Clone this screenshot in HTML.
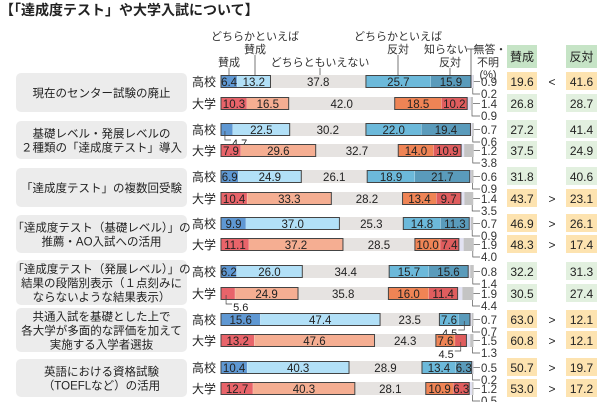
<!DOCTYPE html>
<html><head><meta charset="utf-8">
<style>
html,body{margin:0;padding:0;background:#fff;}
svg{display:block;font-family:"Liberation Sans","Noto Sans CJK JP",sans-serif;}
</style></head>
<body>
<svg id="c" width="600" height="402" viewBox="0 0 600 402" xmlns="http://www.w3.org/2000/svg">
<text x="0" y="15" font-size="14" font-weight="bold" fill="#222">【「達成度テスト」や大学入試について】</text>
<g font-size="11" fill="#333" text-anchor="middle">
<text x="255" y="40">どちらかといえば</text>
<text x="255" y="53">賛成</text>
<text x="229" y="66">賛成</text>
<text x="320" y="66">どちらともいえない</text>
<text x="398" y="40">どちらかといえば</text>
<text x="398" y="53">反対</text>
<text x="446" y="53">知らない</text>
<text x="450" y="66">反対</text>
<text x="490" y="53">無答・</text>
<text x="488" y="66">不明</text>
<text x="488" y="78">(%)</text>
</g>
<g stroke="#555" stroke-width="0.8">
<line x1="229" y1="68" x2="229" y2="76"/>
<line x1="255" y1="55" x2="255" y2="76"/>
<line x1="320" y1="68" x2="320" y2="76"/>
<line x1="398" y1="55" x2="398" y2="76"/>
<line x1="450" y1="68" x2="450" y2="76"/>
<line x1="471" y1="49" x2="471" y2="76"/>
<line x1="467" y1="49" x2="477" y2="49"/>
</g>
<rect x="507" y="45" width="30" height="23" fill="#c6e4c6"/>
<rect x="566" y="45" width="31" height="23" fill="#c6e4c6"/>
<text x="522" y="61" font-size="12" text-anchor="middle" fill="#222">賛成</text>
<text x="581.5" y="61" font-size="12" text-anchor="middle" fill="#222">反対</text>
<g id="g"></g>
</svg>
<script>
var groups=[
{l:["現在のセンター試験の廃止"],r:[
 [6.4,13.2,37.8,25.7,15.9,0.9,0.2,"19.6","<","41.6",1],
 [10.3,16.5,42.0,18.5,10.2,1.4,0.9,"26.8","","28.7",0]]},
{l:["基礎レベル・発展レベルの","２種類の「達成度テスト」導入"],r:[
 [4.7,22.5,30.2,22.0,19.4,0.7,0.6,"27.2","","41.4",0,"a"],
 [7.9,29.6,32.7,14.0,10.9,1.2,3.8,"37.5","","24.9",0]]},
{l:["「達成度テスト」の複数回受験"],r:[
 [6.9,24.9,26.1,18.9,21.7,0.6,0.9,"31.8","","40.6",0],
 [10.4,33.3,28.2,13.4,9.7,1.4,3.5,"43.7",">","23.1",1]]},
{l:["「達成度テスト（基礎レベル）」の","推薦・AO入試への活用"],r:[
 [9.9,37.0,25.3,14.8,11.3,0.7,0.9,"46.9",">","26.1",1],
 [11.1,37.2,28.5,10.0,7.4,1.9,4.0,"48.3",">","17.4",1]]},
{l:["「達成度テスト（発展レベル）」の","結果の段階別表示（１点刻みに","ならないような結果表示）"],r:[
 [6.2,26.0,34.4,15.7,15.6,0.8,1.4,"32.2","","31.3",0],
 [5.6,24.9,35.8,16.0,11.4,1.9,4.4,"30.5","","27.4",0,"a"]]},
{l:["共通入試を基礎とした上で","各大学が多面的な評価を加えて","実施する入学者選抜"],r:[
 [15.6,47.4,23.5,7.6,4.5,0.7,0.7,"63.0",">","12.1",1,"e"],
 [13.2,47.6,24.3,7.6,4.5,1.5,1.3,"60.8",">","12.1",1,"e"]]},
{l:["英語における資格試験","（TOEFLなど）の活用"],r:[
 [10.4,40.3,28.9,13.4,6.3,0.5,0.2,"50.7",">","19.7",1],
 [12.7,40.3,28.1,10.9,6.3,1.2,0.5,"53.0",">","17.2",1]]}
];
var tops=[[75,97],[123,144],[170,192],[217,238],[265,287],[313,334],[361,382]];
var X0=221,S=2.525,H=13;
var colH=["#5f98d3","#b2e0f7","#e6e3e1","#6cb9da","#5a9bbb","#e2e2f2","#c4c4c4"];
var colD=["#e8646a","#f5ae92","#e6e3e1","#ef8455","#df5d5e","#e2e2f2","#c4c4c4"];
var s="";
function t(x,y,str,sz,anc,fill){return '<text x="'+x+'" y="'+y+'" font-size="'+sz+'" text-anchor="'+(anc||"middle")+'" fill="'+(fill||"#222")+'">'+str+'</text>';}
groups.forEach(function(g,gi){
 var y0=tops[gi][0],y1=tops[gi][1]+H;
 var n=g.l.length, pad=n==3?5:2;
 s+='<rect x="16" y="'+(y0-pad)+'" width="171" height="'+(y1-y0+2*pad)+'" rx="5" fill="#ececec"/>';
 var cy=(y0+y1)/2, lh=14;
 g.l.forEach(function(line,i){s+=t(101.5,cy+4.5+(i-(n-1)/2)*lh,line,11.5);});
 g.r.forEach(function(r,ri){
  var y=tops[gi][ri], col=ri==0?colH:colD;
  s+=t(204,y+11,ri==0?"高校":"大学",12);
  var x=X0, xs=[];
  for(var k=0;k<7;k++){var w=r[k]*S; xs.push([x,w]); 
   s+='<rect x="'+x.toFixed(2)+'" y="'+y+'" width="'+w.toFixed(2)+'" height="'+H+'" fill="'+col[k]+'"/>';
   if(k==0||k==3) s+='<line x1="'+(x+w).toFixed(2)+'" y1="'+y+'" x2="'+(x+w).toFixed(2)+'" y2="'+(y+H)+'" stroke="#fff" stroke-width="0.7" opacity="0.7"/>';
   x+=w;}
  // outlines
  s+='<rect x="'+xs[0][0].toFixed(2)+'" y="'+(y+0.5)+'" width="'+(xs[0][1]+xs[1][1]).toFixed(2)+'" height="'+(H-1)+'" fill="none" stroke="#444" stroke-width="1"/>';
  s+='<rect x="'+xs[3][0].toFixed(2)+'" y="'+(y+0.5)+'" width="'+(xs[3][1]+xs[4][1]).toFixed(2)+'" height="'+(H-1)+'" fill="none" stroke="#444" stroke-width="1"/>';
  for(var k=0;k<5;k++){
   var cx=xs[k][0]+xs[k][1]/2, v=r[k].toFixed(1);
   if((k==0&&r[11]=="a")||(k==4&&r[11]=="e")){
     var lx=k==0?cx-2:cx, ty=y+H+9;
     s+='<polyline points="'+lx+','+(y+8)+' '+lx+','+(y+H+4)+' '+(k==0?lx+6:lx-6)+','+(y+H+4)+'" fill="none" stroke="#444" stroke-width="0.7"/>';
     s+=t(k==0?lx+7:lx-7,ty+2,v,11,k==0?"start":"end");
   } else s+=t(cx,y+11,v,11.5);
  }
  var ex=xs[6][0]+xs[6][1], e5=xs[5][0]+xs[5][1]/2;
  s+='<line x1="'+Math.max(ex,471).toFixed(1)+'" y1="'+(y+6.5)+'" x2="480" y2="'+(y+6.5)+'" stroke="#555" stroke-width="0.7"/>';
  s+=t(481,y+11,r[5].toFixed(1),11.5,"start","#333");
  s+='<polyline points="'+(ex-1).toFixed(1)+','+(y+H)+' '+(ex-1).toFixed(1)+','+(y+H+6)+' 480,'+(y+H+6)+'" fill="none" stroke="#555" stroke-width="0.7"/>';
  s+=t(481,y+H+10,r[6].toFixed(1),11.5,"start","#333");
  var bc=r[10]?"#fde3b0":"#e2f0df";
  s+='<rect x="507" y="'+(y-3)+'" width="30" height="18" fill="'+bc+'"/>';
  s+='<rect x="566" y="'+(y-3)+'" width="31" height="18" fill="'+bc+'"/>';
  s+=t(522,y+11,r[7],12);
  s+=t(581.5,y+11,r[9],12);
  if(r[8]) s+=t(552,y+11,r[8]=="<"?"&lt;":"&gt;",12);
 });
});
document.getElementById("g").innerHTML=s;
</script>
</body></html>
